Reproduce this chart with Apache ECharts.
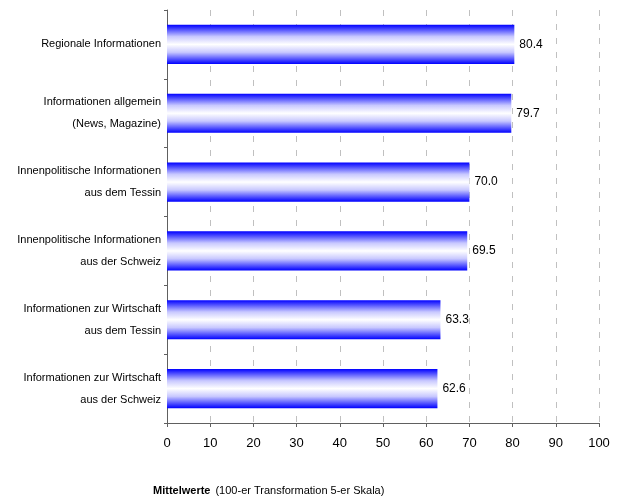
<!DOCTYPE html>
<html>
<head>
<meta charset="utf-8">
<script src="https://cdn.jsdelivr.net/npm/echarts@6/dist/echarts.min.js"></script>
<style>
  html, body { margin: 0; padding: 0; background: #fff; }
  #chart { width: 621px; height: 504px; }
</style>
</head>
<body>
<div id="chart"></div>
<script>
var categories = [
    'Regionale Informationen',
    'Informationen allgemein\n(News, Magazine)',
    'Innenpolitische Informationen\naus dem Tessin',
    'Innenpolitische Informationen\naus der Schweiz',
    'Informationen zur Wirtschaft\naus dem Tessin',
    'Informationen zur Wirtschaft\naus der Schweiz'
];
var values = [80.4, 79.7, 70.0, 69.5, 63.3, 62.6];
var xTicks = [0, 10, 20, 30, 40, 50, 60, 70, 80, 90, 100];

var chart = echarts.init(document.getElementById('chart'));

// blue - white - blue, like the old office gradient fill
var barFill = new echarts.graphic.LinearGradient(0, 0, 0, 1, [
    {offset: 0, color: '#0000ff'},
    {offset: 0.12, color: '#5050ff'},
    {offset: 0.3, color: '#c8c8ff'},
    {offset: 0.5, color: '#ffffff'},
    {offset: 0.7, color: '#c8c8ff'},
    {offset: 0.88, color: '#5050ff'},
    {offset: 1, color: '#0000ff'}
]);

var option = {
    animation: false,
    textStyle: { fontFamily: 'Liberation Sans', color: '#000' },
    title: {
        text: '{b|Mittelwerte} {n|(100-er Transformation 5-er Skala)}',
        left: 148,
        top: 477,
        textStyle: {
            fontWeight: 'normal',
            rich: {
                b: { fontWeight: 'bold', fontSize: 11, color: '#000', fontFamily: 'Liberation Sans' },
                n: { fontWeight: 'normal', fontSize: 11, color: '#000', fontFamily: 'Liberation Sans' }
            }
        }
    },
    grid: { left: 167, right: 22, top: 10, bottom: 81, containLabel: false },
    xAxis: {
        type: 'value',
        min: 0,
        max: 100,
        interval: 10,
        axisLine: { show: true, lineStyle: { color: '#606060', width: 1 } },
        axisTick: { show: true, length: 4, lineStyle: { color: '#606060' } },
        axisLabel: {
            margin: 14,
            fontSize: 13,
            color: '#000',
            formatter: function (v) { return xTicks.indexOf(v) >= 0 ? String(v) : ''; }
        },
        splitLine: { show: true, lineStyle: { color: '#c0c0c0', type: [6, 8], width: 1 } }
    },
    yAxis: {
        type: 'category',
        inverse: true,
        data: categories,
        axisLine: { show: true, lineStyle: { color: '#606060', width: 1 } },
        axisTick: { show: true, length: 3, lineStyle: { color: '#606060' } },
        axisLabel: {
            margin: 6,
            fontSize: 11,
            lineHeight: 22,
            color: '#000',
            align: 'right'
        }
    },
    series: [{
        type: 'bar',
        data: values,
        barWidth: '57%',
        itemStyle: { color: barFill },
        label: {
            show: true,
            position: 'right',
            distance: 5,
            fontSize: 12,
            color: '#000',
            formatter: function (p) { return p.value.toFixed(1); }
        }
    }]
};

chart.setOption(option);
</script>
</body>
</html>
